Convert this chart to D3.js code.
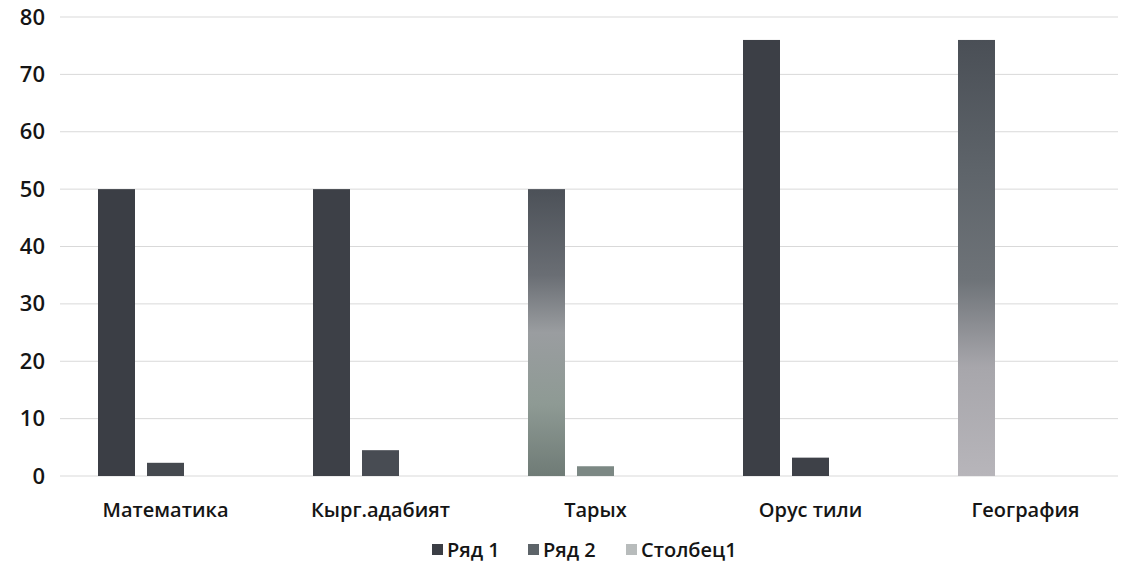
<!DOCTYPE html>
<html><head><meta charset="utf-8">
<script src="https://cdn.jsdelivr.net/npm/d3@7"></script>
<style>body{margin:0;background:#fff}svg{display:block}</style>
</head><body><svg id="c" width="1129" height="586"></svg>
<script>
const categories = ["Математика","Кырг.адабият","Тарых","Орус тили","География"];
const seriesNames = ["Ряд 1","Ряд 2","Столбец1"];
const row1 = [50,50,50,76,76];
const row2 = [2.3,4.5,1.7,3.2,0];
const col1 = [0,0,0,0,0];
const yTicks = [0,10,20,30,40,50,60,70,80];

const svg = d3.select("#c");
const x = d3.scaleBand().domain(categories).range([58,1133]).paddingInner(0).paddingOuter(0);
const y = d3.scaleLinear().domain([0,80]).range([476,17]);
const series=[row1,row2,col1];
const barW=37, gap=12;
const offs=[-barW-gap, 0, barW+gap];
const font="'Open Sans', 'Noto Sans', sans-serif";

// gradients
const defs=svg.append("defs");
const g1=defs.append("linearGradient").attr("id","gTar").attr("x1",0).attr("y1",0).attr("x2",0).attr("y2",1);
[[0,"#4c5158"],[0.3,"#6a6e74"],[0.5,"#9a9da0"],[0.75,"#8e9a94"],[1,"#6f7b76"]].forEach(s=>g1.append("stop").attr("offset",s[0]).attr("stop-color",s[1]));
const g2=defs.append("linearGradient").attr("id","gGeo").attr("x1",0).attr("y1",0).attr("x2",0).attr("y2",1);
[[0,"#4a4f56"],[0.3,"#5e646a"],[0.55,"#6e7378"],[0.75,"#a7a6ab"],[1,"#b7b5ba"]].forEach(s=>g2.append("stop").attr("offset",s[0]).attr("stop-color",s[1]));

// grid
svg.append("g").selectAll("line").data(yTicks).join("line")
  .attr("x1",60).attr("x2",1118).attr("y1",d=>y(d)).attr("y2",d=>y(d))
  .attr("stroke","#d9d9d9").attr("stroke-width",1);

// y axis labels
const yAxis=d3.axisLeft(y).tickValues(yTicks).tickSize(0).tickPadding(0);
const ya=svg.append("g").attr("transform","translate(45,0)").call(yAxis);
ya.select(".domain").remove();
ya.selectAll("text").attr("font-family",font).attr("font-size",22).attr("font-weight",600).attr("fill","#151515");

// x axis labels
const xAxis=d3.axisBottom(x).tickSize(0).tickPadding(0);
const xa=svg.append("g").attr("transform","translate(0,0)").call(xAxis);
xa.select(".domain").remove();
xa.selectAll("text").attr("font-family",font).attr("font-size",20).attr("font-weight",600).attr("fill","#151515").attr("y",517).attr("dy",null);

const fills=[
  ["#3b3e45","#3d4047","url(#gTar)","#3c3f46","url(#gGeo)"],
  ["#45494f","#484c53","#7c8884","#3e4148",""],
  ["#b8bcbc","#b8bcbc","#b8bcbc","#b8bcbc","#b8bcbc"]
];
series.forEach((vals,si)=>{
  svg.append("g").selectAll("rect").data(vals).join("rect")
    .attr("x",(d,i)=>x(categories[i])+x.bandwidth()/2+offs[si]-barW/2)
    .attr("width",barW)
    .attr("y",d=>y(d))
    .attr("height",d=>y(0)-y(d))
    .attr("fill",(d,i)=>fills[si][i]);
});

// legend
const legColors=["#3b3e45","#5d6469","#b8bcbc"];
const legX=[432,528,626];
const lg=svg.append("g");
seriesNames.forEach((n,i)=>{
  lg.append("rect").attr("x",legX[i]).attr("y",544).attr("width",11).attr("height",11).attr("fill",legColors[i]);
  lg.append("text").attr("x",legX[i]+15).attr("y",557).text(n)
    .attr("font-family",font).attr("font-size",20).attr("font-weight",600).attr("fill","#151515");
});
</script></body></html>
